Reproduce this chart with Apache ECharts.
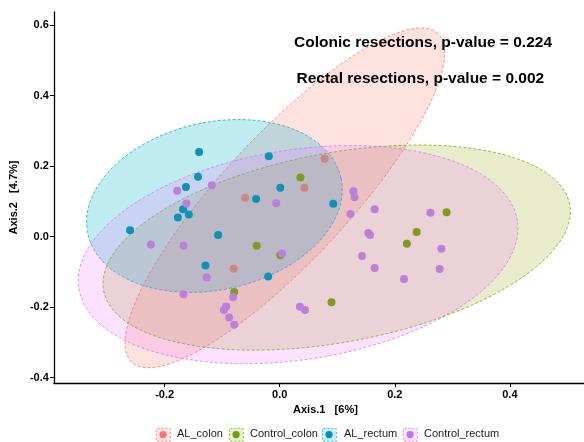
<!DOCTYPE html>
<html>
<head>
<meta charset="utf-8">
<script src="https://cdn.jsdelivr.net/npm/echarts@6/dist/echarts.min.js"></script>
<style>
html,body{margin:0;padding:0;background:#fff;}
#chart{width:584px;height:442px;}
</style>
</head>
<body>
<div id="chart"></div>
<script>
// ---------- data ----------
const groups = ['AL_colon', 'Control_colon', 'AL_rectum', 'Control_rectum'];
const xTicks = [-0.2, 0, 0.2, 0.4];
const yTicks = [-0.4, -0.2, 0, 0.2, 0.4, 0.6];

const alColonX = [0.078, 0.043, -0.060, -0.080];
const alColonY = [0.221, 0.139, 0.110, -0.091];

const controlColonX = [0.036, -0.040, 0.001, -0.079, 0.090, 0.290, 0.238, 0.221];
const controlColonY = [0.168, -0.026, -0.053, -0.157, -0.186, 0.069, 0.013, -0.020];

const alRectumX = [-0.140, -0.019, -0.142, -0.163, 0.001, -0.041, 0.093, -0.168, -0.158, -0.177, -0.260, -0.107, -0.129, -0.020];
const alRectumY = [0.240, 0.228, 0.170, 0.141, 0.139, 0.107, 0.093, 0.078, 0.063, 0.054, 0.018, 0.005, -0.082, -0.113];

const controlRectumX = [-0.178, -0.118, -0.162, -0.006, -0.224, -0.167, -0.127, -0.167, -0.081, -0.093, -0.097, -0.088, -0.079, 0.004, 0.035, 0.044, 0.128, 0.130, 0.123, 0.165, 0.154, 0.157, 0.143, 0.165, 0.216, 0.262, 0.281, 0.278];
const controlRectumY = [0.130, 0.146, 0.094, 0.095, -0.022, -0.026, -0.115, -0.163, -0.172, -0.198, -0.208, -0.229, -0.250, -0.048, -0.199, -0.208, 0.129, 0.112, 0.064, 0.078, 0.010, 0.005, -0.055, -0.089, -0.120, 0.068, -0.034, -0.092];

// 95% ellipses (data units): centre and two conjugate semi-axis vectors, order as groups
const ellipseCX = [0.009, 0.099, -0.1135, 0.032];
const ellipseCY = [0.110, -0.031, 0.087, -0.051];
const ellipseUX = [0.266, 0.405, 0.220, 0.381];
const ellipseUY = [0.466, 0.122, 0.079, 0.096];
const ellipseVX = [-0.080, -0.030, -0.031, -0.028];
const ellipseVY = [0.122, 0.264, 0.232, 0.294];

const annotations = ['Colonic resections, p-value = 0.224', 'Rectal resections, p-value = 0.002'];

// ---------- styles ----------
const FONT = '"Liberation Sans", Arial, Helvetica, sans-serif';
const pointColors = ['#C98883', '#809A22', '#0E93B4', '#BC80D8'];
const legendDotColors = ['#F8786E', '#6E9E12', '#0090BA', '#C373F0'];
const strokeColors = ['#F8766D', '#7CAE00', '#17A9C9', '#CF7DF5'];
const fillColors = ['rgba(248,118,109,0.21)', 'rgba(150,160,20,0.21)', 'rgba(0,180,200,0.25)', 'rgba(240,120,250,0.21)'];
const legendFills = ['#FEE4E2', '#E8EFD2', '#CCEEF2', '#F6E6FF'];

function zip(xs, ys) { return xs.map((x, i) => [x, ys[i]]); }
const pointSets = [zip(alColonX, alColonY), zip(controlColonX, controlColonY), zip(alRectumX, alRectumY), zip(controlRectumX, controlRectumY)];

const chart = echarts.init(document.getElementById('chart'), null, {renderer: 'canvas'});

const ellipseSeries = {
  type: 'custom',
  name: 'ellipses',
  coordinateSystem: 'cartesian2d',
  silent: true,
  z: 3,
  data: groups.map((g, i) => [ellipseCX[i], ellipseCY[i]]),
  renderItem: function (params, api) {
    const i = params.dataIndex;
    const N = 160;
    const pts = [];
    for (let k = 0; k < N; k++) {
      const t = 2 * Math.PI * k / N;
      const x = ellipseCX[i] + ellipseUX[i] * Math.cos(t) + ellipseVX[i] * Math.sin(t);
      const y = ellipseCY[i] + ellipseUY[i] * Math.cos(t) + ellipseVY[i] * Math.sin(t);
      pts.push(api.coord([x, y]));
    }
    return {
      type: 'polygon',
      shape: {points: pts},
      style: {fill: fillColors[i], stroke: strokeColors[i], lineWidth: 0.8, lineDash: [3, 2]}
    };
  }
};

const scatterSeries = groups.map((g, i) => ({
  type: 'scatter',
  name: g,
  data: pointSets[i],
  symbol: 'circle',
  symbolSize: 8,
  z: 5,
  itemStyle: {color: pointColors[i], opacity: 1},
  emphasis: {disabled: true}
}));

// legend and annotations built from graphic elements
const legendBoxX = [156, 229, 322, 403];
const legendTextX = [177, 250, 344, 424];
const legendY = 435;
const graphics = [];
groups.forEach((g, i) => {
  graphics.push({
    type: 'rect', left: legendBoxX[i], top: legendY - 7, z: 100,
    shape: {x: 0, y: 0, width: 14, height: 13, r: 1},
    style: {fill: legendFills[i], stroke: strokeColors[i], lineWidth: 0.8, lineDash: [2, 2]}
  });
  graphics.push({
    type: 'circle', left: legendBoxX[i] + 3.5, top: legendY - 4, z: 101,
    shape: {cx: 3.5, cy: 3.5, r: 3.6},
    style: {fill: legendDotColors[i]}
  });
  graphics.push({
    type: 'text', left: legendTextX[i], top: legendY - 7, z: 100,
    style: {text: g, fill: '#222', font: '11px ' + FONT}
  });
});
graphics.push({
  type: 'text', left: 294, top: 35, z: 100,
  style: {text: annotations[0], fill: '#000', font: 'bold 15.5px ' + FONT}
});
graphics.push({
  type: 'text', left: 296.5, top: 71, z: 100,
  style: {text: annotations[1], fill: '#000', font: 'bold 15.5px ' + FONT}
});

const axisLabelStyle = {color: '#000', fontWeight: 'bold', fontSize: 11, fontFamily: FONT};

chart.setOption({
  animation: false,
  backgroundColor: '#fff',
  grid: {left: 53, right: 0, top: 12, bottom: 59, containLabel: false},
  xAxis: {
    type: 'value', min: -0.3925, max: 0.5288,
    axisLine: {show: true, onZero: false, lineStyle: {color: '#000', width: 1.3}},
    axisTick: {show: true, length: 4, customValues: xTicks, lineStyle: {color: '#000', width: 1}},
    axisLabel: Object.assign({customValues: xTicks, margin: 6, formatter: v => v.toFixed(1)}, axisLabelStyle),
    splitLine: {show: false},
    name: 'Axis.1   [6%]', nameLocation: 'middle', nameGap: 21,
    nameTextStyle: {color: '#000', fontWeight: 'bold', fontSize: 11, fontFamily: FONT, padding: [0, 0, 0, 13]}
  },
  yAxis: {
    type: 'value', min: -0.415, max: 0.637,
    axisLine: {show: true, onZero: false, lineStyle: {color: '#000', width: 1.3}},
    axisTick: {show: true, length: 4, customValues: yTicks, lineStyle: {color: '#000', width: 1}},
    axisLabel: Object.assign({customValues: yTicks, margin: 5, formatter: v => v.toFixed(1)}, axisLabelStyle),
    splitLine: {show: false},
    name: 'Axis.2   [4.7%]', nameLocation: 'middle', nameGap: 29, nameRotate: 90,
    nameTextStyle: {color: '#000', fontWeight: 'bold', fontSize: 11, fontFamily: FONT}
  },
  graphic: graphics,
  series: [...scatterSeries, ellipseSeries]
});
</script>
</body>
</html>
